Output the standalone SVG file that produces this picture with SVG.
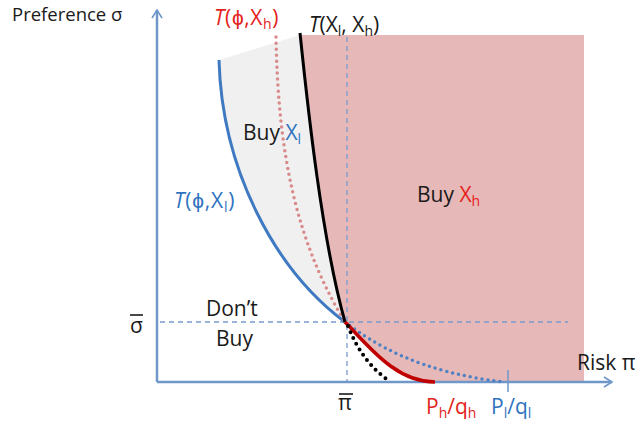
<svg xmlns="http://www.w3.org/2000/svg" width="638" height="423" viewBox="0 0 638 423">
<defs>
<style>
text{font-family:"Open Sans","Liberation Sans",Arial,sans-serif;font-size:21px;fill:#1a1a1a}
.red{fill:#e3231b}
.blue{fill:#2f73c0}
.it{font-style:italic}
.sub{font-size:14px}
.axis{stroke:#6f97c9;stroke-width:2.5;fill:none}
.dash{stroke:#7a9bd0;stroke-width:1.3;stroke-dasharray:5 4;fill:none}
</style>
<marker id="arr" viewBox="0 0 12 12" refX="10" refY="6" markerWidth="12" markerHeight="12" markerUnits="userSpaceOnUse" orient="auto">
<path d="M2,1 L10,6 L2,11" fill="none" stroke="#6f97c9" stroke-width="1.6"/>
</marker>
</defs>
<rect width="638" height="423" fill="#ffffff"/>

<g id="regions">
<path id="buy-xl-region" d="M219,60 L300,35 C308,110 322,240 345,322 C275,270 222,170 219,60 Z" fill="#f0f0f0"/>
<path id="buy-xh-region" d="M300,35 L584,35 L584,382 L435,382 C395,382 368,345 345,322 C322,240 308,110 300,35 Z" fill="#e6b8b7"/>
</g>

<g id="connectors">
<line class="dash" x1="347" y1="37" x2="347" y2="382"/>
<line class="dash" x1="160" y1="322" x2="568" y2="322"/>
<line class="axis" x1="157" y1="382" x2="157" y2="10" marker-end="url(#arr)"/>
<line class="axis" x1="157" y1="382" x2="612" y2="382" marker-end="url(#arr)"/>
<line x1="508" y1="370" x2="508" y2="392" stroke="#6f97c9" stroke-width="1.5"/>
<path id="t-phi-xl" d="M219,60 C222,170 275,270 345,322" fill="none" stroke="#3e79c2" stroke-width="3"/>
<path id="t-phi-xl-dotted" d="M345,322 C375,345 420,372 503,382" fill="none" stroke="#4f82c4" stroke-width="3.5" stroke-dasharray="0 6" stroke-linecap="round"/>
<path id="t-phi-xh" d="M276,37 C278,150 295,240 345,322" fill="none" stroke="#d98a8a" stroke-width="3.5" stroke-dasharray="0 6" stroke-linecap="round"/>
<path id="t-xl-xh" d="M300,33 C308,110 322,240 345,322" fill="none" stroke="#000000" stroke-width="3"/>
<path id="red-curve" d="M345,322 C368,345 395,382 435,382" fill="none" stroke="#c00000" stroke-width="3.5"/>
<path id="black-dotted" d="M348,326 Q362,362 388,380" fill="none" stroke="#000000" stroke-width="4" stroke-dasharray="0 6.5" stroke-linecap="round"/>
</g>

<g id="labels">
<text x="12" y="21" style="font-size:18.5px">Preference σ</text>
<text x="214" y="25" class="red" style="letter-spacing:0.6px"><tspan class="it">T</tspan>(ϕ,X<tspan class="sub" dy="4">h</tspan><tspan dy="-4">)</tspan></text>
<text x="309" y="32"><tspan class="it">T</tspan>(X<tspan class="sub" dy="4">l</tspan><tspan dy="-4">, X</tspan><tspan class="sub" dy="4">h</tspan><tspan dy="-4">)</tspan></text>
<text x="243" y="140">Buy <tspan class="blue">X</tspan><tspan class="blue sub" dy="4">l</tspan></text>
<text x="174" y="208" class="blue" style="letter-spacing:0.8px"><tspan class="it">T</tspan>(ϕ,X<tspan class="sub" dy="4">l</tspan><tspan dy="-4">)</tspan></text>
<text x="417" y="202">Buy <tspan class="red">X</tspan><tspan class="red sub" dy="4">h</tspan></text>
<text x="206" y="316">Don’t</text>
<text x="216" y="346">Buy</text>
<text x="130" y="333">σ</text>
<line x1="130" y1="315" x2="143" y2="315" stroke="#1a1a1a" stroke-width="1.6"/>
<text x="338" y="410">π</text>
<line x1="339" y1="394" x2="353" y2="394" stroke="#1a1a1a" stroke-width="1.6"/>
<text x="426" y="414" class="red">P<tspan class="sub" dy="4">h</tspan><tspan dy="-4">/q</tspan><tspan class="sub" dy="4">h</tspan></text>
<text x="491" y="414" class="blue">P<tspan class="sub" dy="4">l</tspan><tspan dy="-4">/q</tspan><tspan class="sub" dy="4">l</tspan></text>
<text x="577" y="370">Risk π</text>
</g>
</svg>
